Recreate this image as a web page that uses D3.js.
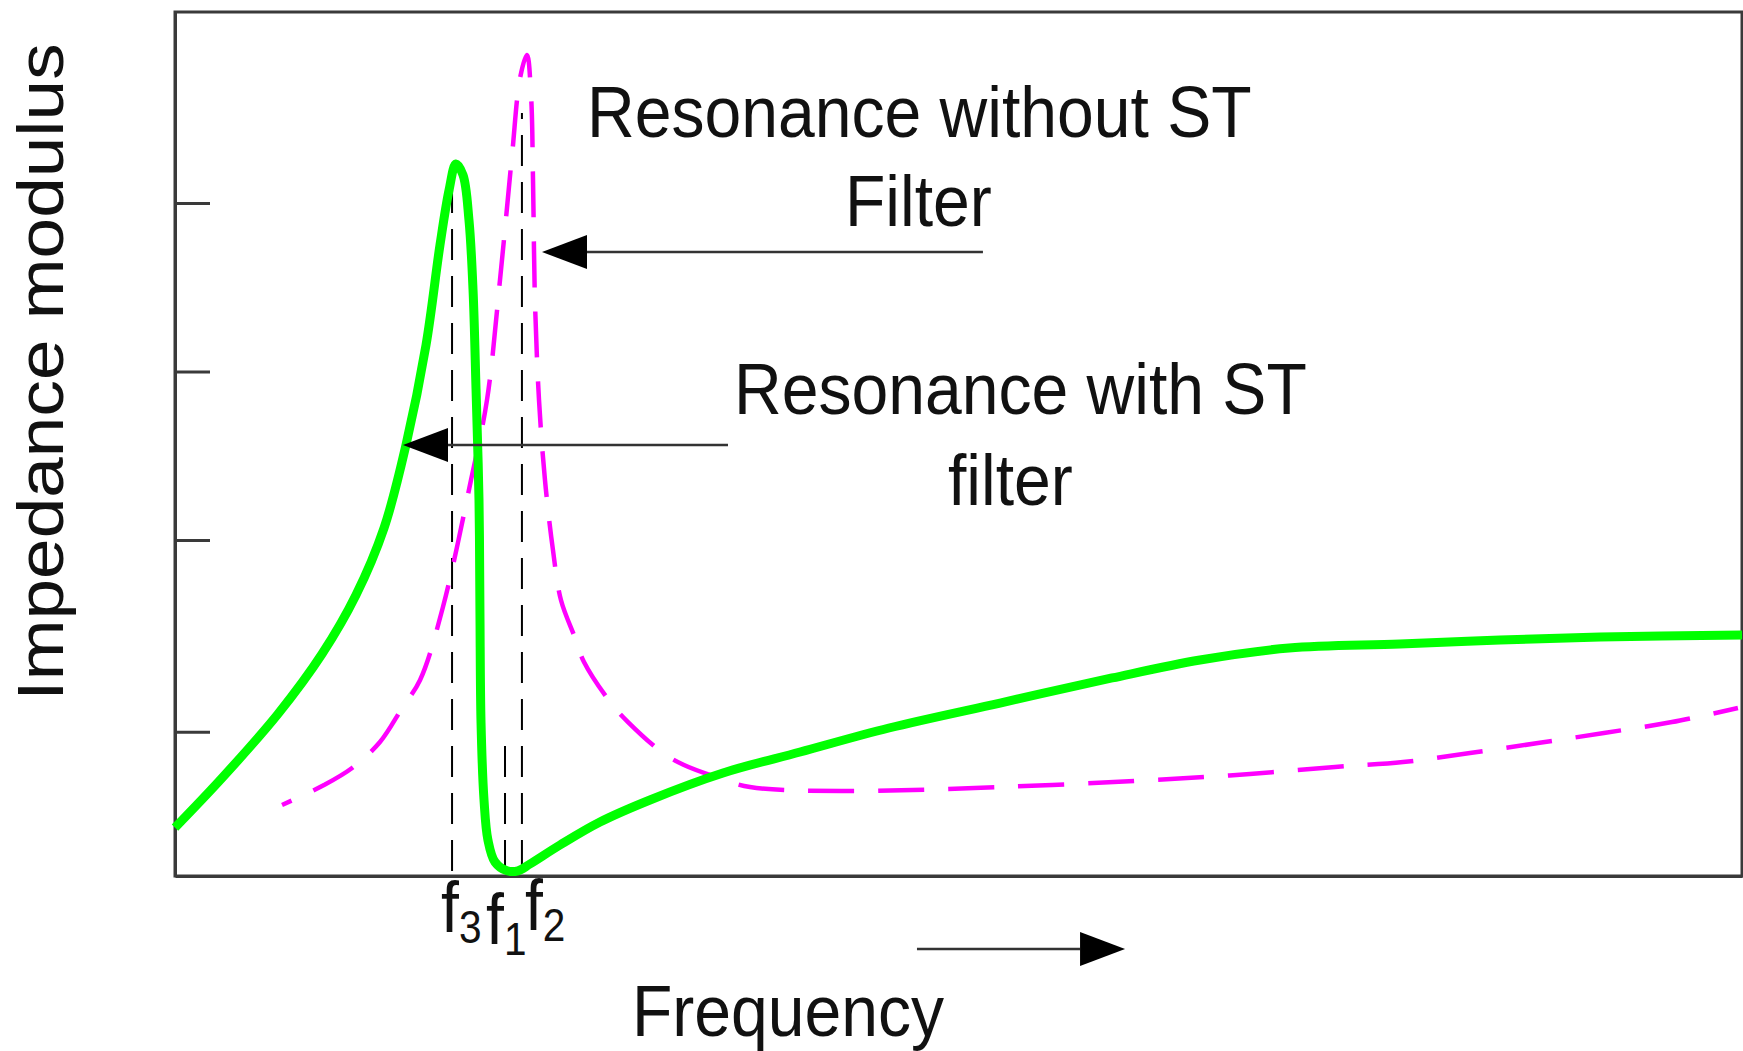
<!DOCTYPE html>
<html lang="en">
<head>
  <meta charset="utf-8">
  <script src="https://d3js.org/d3.v7.min.js"></script>
  <style>
    body { margin: 0; background: #fff; }
    text { font-family: "Liberation Sans", Arial, sans-serif; fill: #111; }
  </style>
</head>
<body>
  <svg id="chart" width="1743" height="1051"></svg>

  <script>
    // schematic curve, both axes in arbitrary units 0..100
    // resonance with ST filter (solid green)
    const withFreq = [0, 3.0, 6.57, 9.38, 11.55, 13.34, 14.74, 16.02, 16.91, 17.49, 17.93, 18.38, 18.76,
      19.02, 19.21, 19.40, 19.46, 19.53, 19.72, 19.97, 20.42, 21.19, 21.89, 22.65, 24.57, 27.12, 30.31,
      34.97, 39.89, 45.56, 52.65, 59.80, 65.41, 71.09, 78.17, 84.56, 90.94, 100];
    const withImp = [5.6, 11.34, 18.75, 25.69, 32.52, 40.28, 49.88, 61.46, 73.03, 79.40, 82.41, 81.13, 75.93,
      67.82, 56.37, 43.52, 30.67, 17.71, 8.80, 4.17, 1.62, 0.6, 0.6, 1.39, 3.59, 6.25, 8.80,
      11.92, 14.35, 17.13, 20.02, 22.92, 25.0, 26.39, 26.85, 27.31, 27.66, 27.89];

    // resonance without ST filter (dashed magenta)
    const withoutFreq = [6.83, 9.51, 11.30, 13.08, 14.49, 15.64, 17.10, 18.89, 19.91, 20.74, 21.51, 22.02,
      22.46, 22.72, 22.85, 22.97, 23.23, 23.61, 24.12, 24.63, 25.53, 26.10, 27.82, 28.91, 31.14, 32.48,
      34.52, 36.69, 42.76, 52.65, 62.48, 68.60, 74.03, 78.37, 82.64, 86.98, 91.19, 95.53, 99.74];
    const withoutImp = [8.22, 10.53, 12.50, 15.51, 19.44, 22.69, 31.13, 45.83, 55.09, 68.98, 83.45, 92.36,
      95.02, 90.39, 80.21, 66.67, 55.09, 45.83, 37.73, 31.94, 27.55, 24.77, 20.02, 17.82, 14.24, 12.85,
      11.46, 10.30, 9.84, 10.30, 11.11, 11.81, 12.62, 13.19, 14.24, 15.39, 16.55, 17.82, 19.44];

    const yTicks = [16.7, 38.9, 58.4, 77.9];

    // frequency markers f3, f1, f2
    const markerSub = ["3", "1", "2"];
    const markerFreq = [17.68, 21.06, 22.14];
    const markerTop = [79.4, 15.4, 88.3];

    const svg = d3.select("svg#chart");

    const x = d3.scaleLinear().domain([0, 100]).range([175, 1742]);
    const y = d3.scaleLinear().domain([0, 100]).range([876, 12]);

    const axisColor = "#3a3a3a";
    const sx = 0.905;   // text is drawn slightly condensed

    // frame
    svg.append("rect")
      .attr("x", x(0)).attr("y", y(100))
      .attr("width", x(100) - x(0)).attr("height", y(0) - y(100))
      .attr("fill", "none")
      .attr("stroke", axisColor)
      .attr("stroke-width", 3);

    // y axis with inward ticks, no labels
    const yAxis = svg.append("g")
      .attr("transform", "translate(" + x(0) + ",0)")
      .call(d3.axisLeft(y).tickValues(yTicks).tickSize(-35).tickSizeOuter(0).tickFormat(""));
    yAxis.select(".domain").attr("stroke", axisColor).attr("stroke-width", 3);
    yAxis.selectAll(".tick line").attr("stroke", axisColor).attr("stroke-width", 3);

    // bottom axis line
    const xAxis = svg.append("g")
      .attr("transform", "translate(0," + y(0) + ")")
      .call(d3.axisBottom(x).tickValues([]).tickSizeOuter(0));
    xAxis.select(".domain").attr("stroke", axisColor).attr("stroke-width", 3);

    // marker dashed lines
    markerFreq.forEach((f, i) => {
      svg.append("line")
        .attr("x1", x(f)).attr("x2", x(f))
        .attr("y1", y(0) - 5).attr("y2", y(markerTop[i]))
        .attr("stroke", "#000")
        .attr("stroke-width", 2)
        .attr("stroke-dasharray", "31,16");
    });

    const line = d3.line()
      .x(d => x(d[0]))
      .y(d => y(d[1]))
      .curve(d3.curveCatmullRom.alpha(0.5));

    const withoutPts = d3.zip(withoutFreq, withoutImp);
    const magenta = svg.append("path")
      .datum(withoutPts)
      .attr("d", line)
      .attr("fill", "none")
      .attr("stroke", "#ff00ff")
      .attr("stroke-width", 4.5)
      .attr("stroke-dasharray", "46,24");

    // shift the dashes so one dash runs over the peak
    const peakIdx = d3.maxIndex(withoutImp);
    const tmp = svg.append("path").attr("d", line(withoutPts.slice(0, peakIdx + 1)));
    const peakLen = tmp.node().getTotalLength();
    tmp.remove();
    magenta.attr("stroke-dashoffset", (((23 - peakLen) % 70) + 70) % 70);

    svg.append("path")
      .datum(d3.zip(withFreq, withImp))
      .attr("d", line)
      .attr("fill", "none")
      .attr("stroke", "#00ff00")
      .attr("stroke-width", 9);

    // arrows (from, to) in data units
    const arrows = [
      [[51.56, 72.22], [23.42, 72.22]],
      [[35.29, 49.88], [14.55, 49.88]],
      [[47.35, -8.45], [60.63, -8.45]]
    ];
    arrows.forEach(a => {
      const x0 = x(a[0][0]), y0 = y(a[0][1]);
      const x1 = x(a[1][0]), y1 = y(a[1][1]);
      const dir = Math.sign(x1 - x0);
      const headLen = 45, headHalf = 17;
      svg.append("line")
        .attr("x1", x0).attr("y1", y0)
        .attr("x2", x1 - dir * headLen).attr("y2", y1)
        .attr("stroke", "#333")
        .attr("stroke-width", 2.5);
      svg.append("path")
        .attr("d", "M" + x1 + "," + y1 +
          "L" + (x1 - dir * headLen) + "," + (y1 - headHalf) +
          "L" + (x1 - dir * headLen) + "," + (y1 + headHalf) + "Z")
        .attr("fill", "#000");
    });

    // labels
    function label(str, px, py, size) {
      return svg.append("text")
        .attr("transform", "translate(" + px + "," + py + ") scale(" + sx + ",1)")
        .attr("font-size", size)
        .text(str);
    }
    label("Resonance without ST", 587, 137, 73);
    label("Filter", 845, 226, 73);
    label("Resonance with ST", 734, 414, 73);
    label("filter", 948, 505, 73);
    label("Frequency", 632, 1036, 73);

    svg.append("text")
      .attr("transform", "translate(63,372) scale(0.882,1) rotate(-90)")
      .attr("font-size", 73)
      .attr("text-anchor", "middle")
      .text("Impedance modulus");

    // marker labels f3 f1 f2
    const labelDx = [-11, -19, 3];
    const labelBase = [932, 944, 930];
    markerFreq.forEach((f, i) => {
      const t = svg.append("text")
        .attr("transform", "translate(" + (x(f) + labelDx[i]) + "," + labelBase[i] + ") scale(0.882,1)")
        .attr("font-size", 73);
      t.append("tspan").text("f");
      t.append("tspan").attr("font-size", 46).attr("dy", 11).text(markerSub[i]);
    });
  </script>
</body>
</html>
